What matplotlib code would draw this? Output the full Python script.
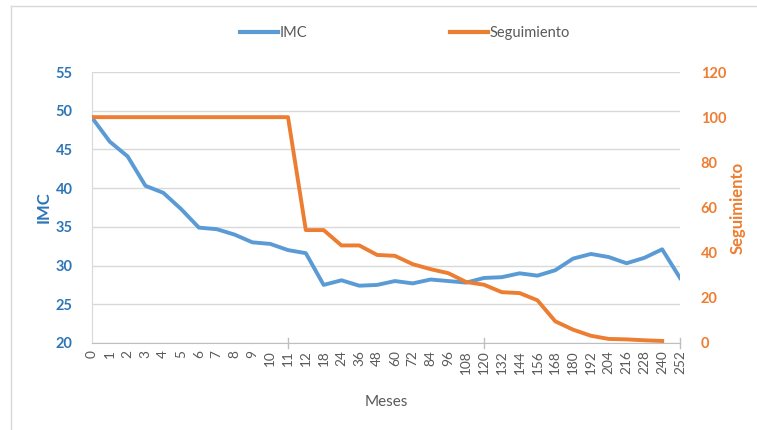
import matplotlib
matplotlib.use("Agg")
import matplotlib.pyplot as plt
from matplotlib.lines import Line2D
import numpy as np

plt.rcParams['font.family'] = ['Lato', 'DejaVu Sans']

meses = ["0", "1", "2", "3", "4", "5", "6", "7", "8", "9", "10", "11", "12", "18", "24",
         "36", "48", "60", "72", "84", "96", "108", "120", "132", "144", "156", "168",
         "180", "192", "204", "216", "228", "240", "252"]
imc = [49.1, 46.0, 44.1, 40.3, 39.4, 37.3, 34.9, 34.7, 34.0, 33.0, 32.8, 32.0, 31.6,
       27.5, 28.1, 27.4, 27.5, 28.0, 27.7, 28.2, 28.0, 27.8, 28.4, 28.5, 29.0, 28.7,
       29.4, 30.9, 31.5, 31.1, 30.3, 31.0, 32.1, 28.4]
seguimiento = [100, 100, 100, 100, 100, 100, 100, 100, 100, 100, 100, 100, 50.0, 50.0,
               43.2, 43.2, 39.0, 38.6, 34.9, 32.7, 30.9, 27.0, 25.8, 22.5, 22.1, 18.9,
               9.6, 5.9, 3.2, 1.8, 1.6, 1.2, 0.9, np.nan]

blue = '#5B9BD5'
orange = '#ED7D31'
blue_txt = '#2E75B6'
gray_txt = '#595959'
grid_c = '#D9D9D9'

fig = plt.figure(figsize=(7.57, 4.30), dpi=100)
ax = fig.add_axes([92/757, 1-343/430, (680-92)/757, (343-72)/430])
ax2 = ax.twinx()

x = np.arange(len(meses))
ax.plot(x, imc, color=blue, lw=2.8, solid_joinstyle='round', zorder=3)
ax2.plot(x, seguimiento, color=orange, lw=2.8, solid_joinstyle='round', zorder=3)

ax.set_xlim(0, len(meses)-1)
ax.set_ylim(20, 55)
ax.set_yticks(np.arange(20, 56, 5))
ax2.set_ylim(0, 120)
ax2.set_yticks(np.arange(0, 121, 20))

ax.yaxis.grid(True, color=grid_c, lw=1.0)
ax.set_axisbelow(True)

ax.set_xticks(x)
ax.set_xticklabels(meses, rotation=90, fontsize=9.8, color=gray_txt)
ax.tick_params(axis='x', length=0, pad=5)
# Excel-like crossing tick marks every 11 categories
for xi in [11, 22, 33]:
    ax.plot([xi, xi], [20 - 0.6, 20 + 0.6], color='#BFBFBF', lw=1, clip_on=False, zorder=2)

for sp in ['top', 'right']:
    ax.spines[sp].set_visible(False)
    ax2.spines[sp].set_visible(False)
ax2.spines['left'].set_visible(False)
ax2.spines['bottom'].set_visible(False)
ax.spines['left'].set_color('#D9D9D9')
ax.spines['bottom'].set_color('#BFBFBF')

ax.tick_params(axis='y', length=0, pad=14, labelcolor=blue_txt, labelsize=10.5)
for t in ax.get_yticklabels():
    t.set_fontweight('bold')
ax2.tick_params(axis='y', length=0, pad=15, labelcolor=orange, labelsize=10.5)
for t in ax2.get_yticklabels():
    t.set_fontweight('bold')

ax.set_ylabel('IMC', color=blue_txt, fontsize=12, fontweight='bold', labelpad=3)
ax2.set_ylabel('Seguimiento', color=orange, fontsize=12, fontweight='bold', labelpad=2)
ax.set_xlabel('Meses', color=gray_txt, fontsize=11, labelpad=15)

handles = [Line2D([], [], color=blue, lw=3), Line2D([], [], color=orange, lw=3)]
fig.legend(handles, ['IMC', 'Seguimiento'], loc='center', bbox_to_anchor=(0.535, 1-33/430),
           ncol=2, frameon=False, fontsize=10.5, handlelength=2.6, handletextpad=0.1,
           columnspacing=9.8, labelcolor=gray_txt)

# chart border
fig.add_artist(Line2D([11/757, 11/757], [0, 1-6/430], color='#D9D9D9', lw=1))
fig.add_artist(Line2D([11/757, 1], [1-6/430, 1-6/430], color='#D9D9D9', lw=1))

fig.savefig('out.png', dpi=100)
